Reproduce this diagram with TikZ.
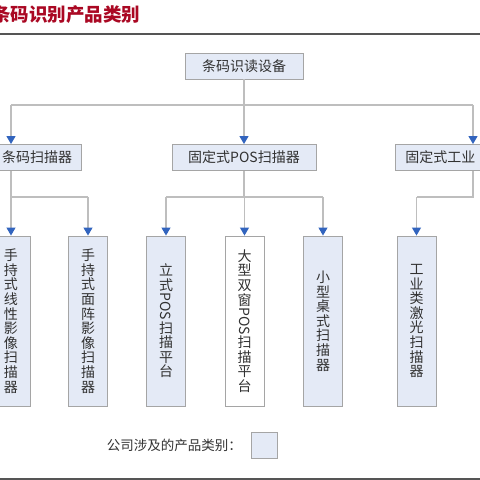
\documentclass[tikz,border=0pt]{standalone}
\usepackage{fontspec}
\usetikzlibrary{arrows.meta}
\newfontfamily\cjk{Noto Sans CJK SC}
\definecolor{linegray}{RGB}{190,190,190}
\definecolor{arrowblue}{RGB}{50,100,190}
\definecolor{boxfill}{RGB}{228,234,246}
\definecolor{boxborder}{RGB}{165,165,165}
\definecolor{txt}{RGB}{50,50,50}
\definecolor{titlered}{RGB}{170,8,35}
\definecolor{rulegray}{RGB}{85,85,85}
\newcommand{\vpos}{\rotatebox[origin=c]{-90}{POS}}
\begin{document}
\begin{tikzpicture}[x=1pt,y=-1pt,
 conn/.style={draw=linegray, line width=1.1pt},
 arr/.style={conn, -{Triangle[width=9pt,length=8pt,color=arrowblue]}},
 box/.style={draw=boxborder, fill=boxfill, line width=0.9pt, text=txt,
   font=\cjk\fontsize{14}{16}\selectfont, minimum height=26pt, inner sep=0pt},
 vbox/.style={box, minimum width=39pt, minimum height=170pt, align=center,
   font=\cjk\fontsize{14}{14.6}\selectfont}]
\useasboundingbox (0,0) rectangle (480,480);
\clip (0,0) rectangle (480,480);
\fill[white] (0,0) rectangle (480,480);

% title and rules
\node[anchor=west, text=titlered, inner sep=0pt,
  font=\cjk\bfseries\fontsize{18.5}{20}\selectfont] (title) at (-8,15) {条码识别产品类别};
\draw[rulegray, line width=1.3pt] (-1,34) -- (481,34);
\draw[rulegray, line width=2pt] (-1,479) -- (481,479);

% level 1
\node[box, minimum width=118pt] (T) at (244,66) {条码识读设备};
% level 2
\node[box, minimum width=88pt] (L1) at (37,157.5) {条码扫描器};
\node[box, minimum width=144pt] (L2) at (244,157.5) {固定式POS扫描器};
\node[box, anchor=west, minimum width=110pt, inner xsep=10pt, align=left, text width=90pt] (L3) at (395,157.5) {固定式工业};
% level 3
\node[vbox] (A) at (11,321) {手\\持\\式\\线\\性\\影\\像\\扫\\描\\器};
\node[vbox] (B) at (88,321) {手\\持\\式\\面\\阵\\影\\像\\扫\\描\\器};
\node[vbox] (C) at (166,321) {立\\式\\\vpos\\扫\\描\\平\\台};
\node[vbox, fill=white] (D) at (244.5,321) {大\\型\\双\\窗\\\vpos\\扫\\描\\平\\台};
\node[vbox] (E) at (323,321) {小\\型\\桌\\式\\扫\\描\\器};
\node[vbox] (F) at (416.5,321) {工\\业\\类\\激\\光\\扫\\描\\器};

% connectors
\coordinate (h1) at (0,105);
\coordinate (h2) at (0,197);
\coordinate (x3) at (473,0);
\draw[conn] (T.south) -- (T.south |- h1);
\draw[conn] (A.north |- h1) -- (x3 |- h1);
\draw[arr] (A.north |- h1) -- (A.north |- L1.north);
\draw[arr] (T.south |- h1) -- (L2.north);
\draw[arr] (x3 |- h1) -- (x3 |- L3.north);

\draw[conn] (A.north |- L1.south) -- (A.north |- h2) -- (B.north |- h2);
\draw[arr] (A.north |- h2) -- (A.north);
\draw[arr] (B.north |- h2) -- (B.north);
\draw[conn] (L2.south) -- (L2.south |- h2);
\draw[conn] (C.north |- h2) -- (E.north |- h2);
\draw[arr] (C.north |- h2) -- (C.north);
\draw[arr] (D.north |- h2) -- (D.north);
\draw[arr] (E.north |- h2) -- (E.north);
\draw[conn] (x3 |- L3.south) -- (x3 |- h2) -- (F.north |- h2);
\draw[arr] (F.north |- h2) -- (F.north);

% legend
\node[anchor=east, text=txt, inner sep=0pt, font=\cjk\fontsize{13.5}{15}\selectfont] (legtxt) at (242,445) {公司涉及的产品类别：};
\node[box, minimum width=26pt, minimum height=26pt] (legbox) at (264,445) {};
\end{tikzpicture}
\end{document}
